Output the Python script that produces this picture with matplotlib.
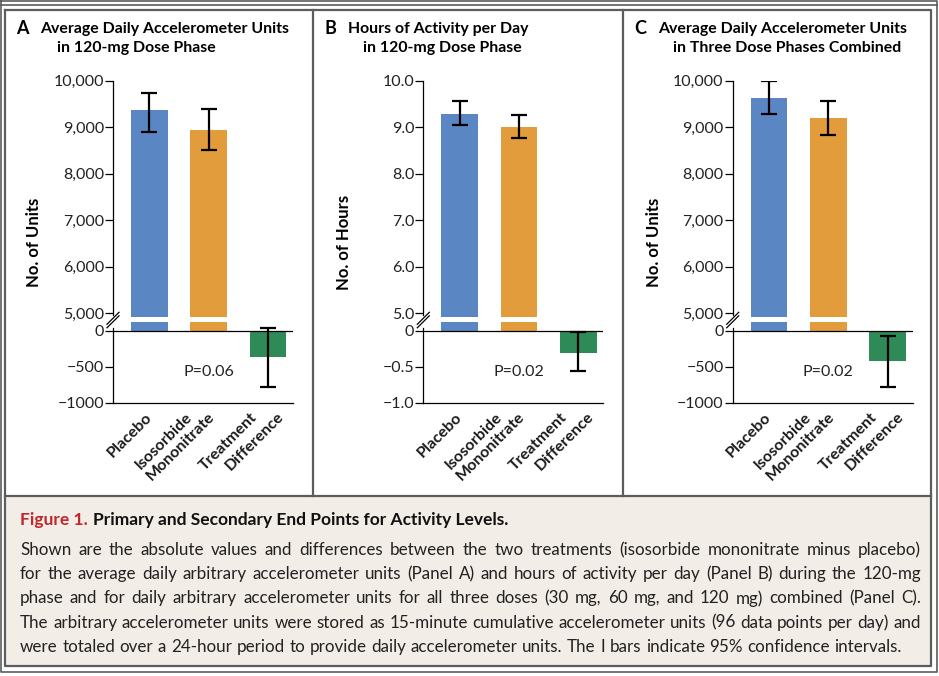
import matplotlib
matplotlib.use("Agg")
import matplotlib.pyplot as plt
from matplotlib.transforms import offset_copy
from matplotlib.lines import Line2D
from matplotlib.patches import Rectangle

plt.rcParams['font.family'] = ['Lato', 'DejaVu Sans']

# ---- data ----
panel_letters = ["A", "B", "C"]
panel_titles = [
    ("Average Daily Accelerometer Units", "in 120-mg Dose Phase"),
    ("Hours of Activity per Day", "in 120-mg Dose Phase"),
    ("Average Daily Accelerometer Units", "in Three Dose Phases Combined"),
]
y_labels = ["No. of Units", "No. of Hours", "No. of Units"]
categories = [["Placebo"], ["Isosorbide", "Mononitrate"], ["Treatment", "Difference"]]

means_a = [9370, 8940, -357]
low_a = [8897, 8503, -774]
high_a = [9742, 9385, 46]

means_b = [9.28, 9.00, -0.30]
low_b = [9.05, 8.76, -0.55]
high_b = [9.57, 9.26, -0.02]

means_c = [9621, 9191, -412]
low_c = [9284, 8832, -774]
high_c = [10000, 9570, -69]

p_values = ["P=0.06", "P=0.02", "P=0.02"]

upper_ticks_units = [5000, 6000, 7000, 8000, 9000, 10000]
lower_ticks_units = [-1000, -500, 0]
upper_ticks_hours = [5.0, 6.0, 7.0, 8.0, 9.0, 10.0]
lower_ticks_hours = [-1.0, -0.5, 0]

caption_lines = [
    "Shown are the absolute values and differences between the two treatments (isosorbide mononitrate minus placebo)",
    "for the average daily arbitrary accelerometer units (Panel A) and hours of activity per day (Panel B) during the 120-mg",
    "phase and for daily arbitrary accelerometer units for all three doses (30 mg, 60 mg, and 120 mg) combined (Panel C).",
    "The arbitrary accelerometer units were stored as 15-minute cumulative accelerometer units (96 data points per day) and",
    "were totaled over a 24-hour period to provide daily accelerometer units. The I bars indicate 95% confidence intervals.",
]

bar_colors = ["#5B86C4", "#E39C3C", "#2E8B57"]
frame_color = "#5C5C5C"

# ---- layout in pixels ----
W, H = 939, 676
fig = plt.figure(figsize=(W / 100, H / 100), dpi=100)


def px_axes(x0, x1, ytop, ybot):
    return fig.add_axes([x0 / W, 1 - ybot / H, (x1 - x0) / W, (ybot - ytop) / H])


def fline(xs, ys, **kw):
    fig.add_artist(Line2D([x / W for x in xs], [1 - y / H for y in ys], **kw))


# frames
fig.add_artist(Rectangle((5 / W, 1 - 666 / H), 926 / W, 170 / H, facecolor="#F3EDE7",
                         edgecolor="none", zorder=0))
fline([1, 937, 937, 1, 1], [1, 1, 672, 672, 1], color=frame_color, lw=1.2)
fline([1, 937], [4.5, 4.5], color=frame_color, lw=1.2)
fline([5, 931, 931, 5, 5], [9.5, 9.5, 666, 666, 9.5], color=frame_color, lw=1.6)
fline([5, 931], [496, 496], color=frame_color, lw=1.6)
fline([313, 313], [9.5, 496], color=frame_color, lw=1.6)
fline([623, 623], [9.5, 496], color=frame_color, lw=1.6)

panels = [
    (means_a, low_a, high_a, 1.0, upper_ticks_units, lower_ticks_units),
    (means_b, low_b, high_b, 0.001, upper_ticks_hours, lower_ticks_hours),
    (means_c, low_c, high_c, 1.0, upper_ticks_units, lower_ticks_units),
]
axis_x = [113, 423.3, 732.7]
letter_x = [16, 324, 634]
title_x = [40, 348, 658]
title2_x = [57, 363, 673]
label_offsets = [[0], [-19, 3.5], [-13, 13.5]]
xpos = [0, 1, 2]

for k, (means, lows, highs, s, up_ticks, low_ticks) in enumerate(panels):
    x0 = axis_x[k]
    yerr = [[m - lo for m, lo in zip(means, lows)], [hi - m for m, hi in zip(means, highs)]]

    ax_up = px_axes(x0, x0 + 180, 80.7, 317.3)
    ax_lo = px_axes(x0, x0 + 180, 322, 403)
    for ax in (ax_up, ax_lo):
        ax.bar(xpos, means, width=0.62, color=bar_colors, edgecolor="none")
        ax.errorbar(xpos, means, yerr=yerr, fmt="none", ecolor="black",
                    elinewidth=1.6, capsize=6, capthick=1.6)
        ax.set_xlim(-0.612, 2.42)
        ax.set_xticks([])
        ax.spines["top"].set_visible(False)
        ax.spines["right"].set_visible(False)
        ax.spines["left"].set_linewidth(0.9)
        ax.spines["bottom"].set_linewidth(0.9)
        ax.patch.set_alpha(0)
        ax.tick_params(axis="y", length=6, width=0.9, pad=0.5, labelsize=11.5,
                       labelcolor="#222222")

    ax_up.set_ylim(4914 * s, 10000 * s)
    ax_up.spines["bottom"].set_visible(False)
    ax_up.spines["left"].set_bounds(4960 * s, 10000 * s)
    ax_up.set_yticks(up_ticks)
    if s == 1.0:
        ax_up.set_yticklabels([f"{int(v):,}" for v in up_ticks])
        ax_lo.set_yticks(low_ticks)
        ax_lo.set_yticklabels([str(int(v)).replace("-", "\u2212") for v in low_ticks])
    else:
        ax_up.set_yticklabels([f"{v:.1f}" for v in up_ticks])
        ax_lo.set_yticks(low_ticks)
        ax_lo.set_yticklabels(["\u22121.0", "\u22120.5", "0"])

    ax_lo.set_ylim(-1000 * s, 125 * s)
    ax_lo.spines["left"].set_bounds(-1000 * s, 40 * s)
    ax_lo.axhline(0, color="black", lw=0.9, zorder=3)
    ax_lo.text(1, -570 * s, p_values[k], ha="center", va="center", fontsize=11.5,
               color="#222222")

    # category labels, rotated, one line at a time
    base = ax_lo.get_xaxis_transform()
    for i, lines in enumerate(categories):
        for line, dx in zip(lines, label_offsets[i]):
            tr = offset_copy(base, fig=fig, x=dx, y=-12, units="dots")
            ax_lo.text(xpos[i], 0, line, transform=tr, rotation=45, ha="right",
                       va="center", rotation_mode="anchor", fontsize=11.5,
                       fontweight="bold", color="#1A1A1A")

    # axis break marks
    for yc in (318.3, 321.8):
        fline([x0 - 6, x0 + 6], [yc + 6, yc - 6], color="black", lw=0.9)

    # titles and axis label
    fig.text(letter_x[k] / W, 1 - 29 / H, panel_letters[k], fontsize=13,
             fontweight="bold", va="center", ha="left")
    fig.text(title_x[k] / W, 1 - 29 / H, panel_titles[k][0], fontsize=11.4,
             fontweight="bold", va="center", ha="left")
    fig.text(title2_x[k] / W, 1 - 48 / H, panel_titles[k][1], fontsize=11.4,
             fontweight="bold", va="center", ha="left")
    fig.text((x0 - 79) / W, 1 - 242 / H, y_labels[k], rotation=90, fontsize=12,
             fontweight="bold", va="center", ha="center")

# caption
fig_lbl = fig.text(20 / W, 1 - 520 / H, "Figure 1.", color="#C1272D", fontsize=12.5,
                   fontweight="bold", va="center", ha="left")
renderer = fig.canvas.get_renderer()
bb = fig_lbl.get_window_extent(renderer)
fig.text((bb.x1 + 5) / W, 1 - 520 / H, "Primary and Secondary End Points for Activity Levels.",
         fontsize=12.5, fontweight="bold", va="center", ha="left", color="#111111")

# pick a body size so the widest line just fits, then justify words
cap_left, cap_right = 20, 921
probe = [fig.text(0, 0, ln, fontsize=12.0) for ln in caption_lines]
widest = max(t.get_window_extent(renderer).width for t in probe)
for t in probe:
    t.remove()
cap_size = 12.0 * (cap_right - cap_left - 6) / widest

for j, line in enumerate(caption_lines):
    y = 1 - (550 + 24.2 * j) / H
    words = line.split(" ")
    texts = [fig.text(0, y, w, fontsize=cap_size, va="center", ha="left", color="#222222")
             for w in words]
    widths = [t.get_window_extent(renderer).width for t in texts]
    if j < len(caption_lines) - 1:
        gap = (cap_right - cap_left - sum(widths)) / (len(words) - 1)
    else:
        gap = cap_size * 0.27 * 100 / 72
    x = cap_left
    for t, w in zip(texts, widths):
        t.set_x(x / W)
        x += w + gap

fig.savefig("out.png", dpi=100)
